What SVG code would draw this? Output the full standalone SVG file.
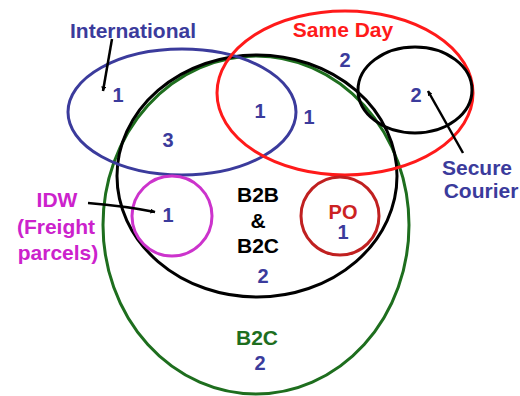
<svg xmlns="http://www.w3.org/2000/svg" width="520" height="396" viewBox="0 0 520 396">
  <defs>
    <marker id="head" viewBox="0 0 10 10" refX="9" refY="5" markerWidth="5" markerHeight="5" orient="auto" markerUnits="userSpaceOnUse">
      <path d="M0,0 L10,5 L0,10 z" fill="#000"/>
    </marker>
  </defs>
  <style>
    text { font-family: "Liberation Sans", Arial, sans-serif; font-weight: bold; font-size: 21px; text-anchor: middle; }
    .ring { fill: none; stroke-width: 3; }
    .num { fill: #3b3b9c; font-size: 20px; }
    .link { fill: none; stroke: #000; stroke-width: 2.5; marker-end: url(#head); }
  </style>
  <rect width="520" height="396" fill="#fff"/>

  <!-- B2C: outer set -->
  <g id="b2c">
    <ellipse class="ring" cx="256" cy="225" rx="153" ry="169" stroke="#1e6e1e"/>
    <text x="257" y="345" fill="#1e6e1e">B2C</text>
    <text class="num" x="260" y="370">2</text>
  </g>

  <!-- B2B & B2C -->
  <g id="b2b">
    <ellipse class="ring" cx="257" cy="176" rx="140" ry="121" stroke="#000"/>
    <text x="258" y="202" fill="#000">B2B</text>
    <text x="258" y="228" fill="#000">&amp;</text>
    <text x="258" y="253" fill="#000">B2C</text>
    <text class="num" x="263" y="283">2</text>
  </g>

  <!-- International -->
  <g id="international">
    <ellipse class="ring" cx="182" cy="112" rx="114" ry="63" stroke="#3b3b9c"/>
    <text x="133" y="38" fill="#3b3b9c">International</text>
    <text class="num" x="118" y="102">1</text>
    <text class="num" x="168" y="147">3</text>
  </g>

  <!-- Same Day -->
  <g id="sameday">
    <ellipse class="ring" cx="345" cy="93" rx="128" ry="82" stroke="#ff1a1a"/>
    <text x="343" y="37" fill="#ff1a1a">Same Day</text>
    <text class="num" x="345" y="67">2</text>
    <text class="num" x="260" y="118">1</text>
    <text class="num" x="309" y="124">1</text>
  </g>

  <!-- Secure Courier -->
  <g id="secure">
    <ellipse class="ring" cx="415" cy="90" rx="57" ry="43" stroke="#000"/>
    <text class="num" x="416" y="102">2</text>
    <text x="477" y="175" fill="#3b3b9c">Secure</text>
    <text x="481" y="198" fill="#3b3b9c">Courier</text>
  </g>

  <!-- IDW -->
  <g id="idw">
    <circle class="ring" cx="172" cy="216" r="40" stroke="#cc33cc"/>
    <text class="num" x="168" y="222">1</text>
    <text x="57" y="207" fill="#cc22cc">IDW</text>
    <text x="56" y="234" fill="#cc22cc">(Freight</text>
    <text x="58" y="260" fill="#cc22cc">parcels)</text>
  </g>

  <!-- PO -->
  <g id="po">
    <circle class="ring" cx="340" cy="216" r="39" stroke="#c02020"/>
    <text x="343" y="219" fill="#cc2222" style="font-size:20px">PO</text>
    <text class="num" x="343" y="239">1</text>
  </g>

  <!-- pointer arrows -->
  <g id="connectors">
    <path class="link" d="M112,39 Q108,62 103,91"/>
    <path class="link" d="M463,153 L428,91"/>
    <path class="link" d="M88,203 Q125,206 155,212"/>
  </g>
</svg>
